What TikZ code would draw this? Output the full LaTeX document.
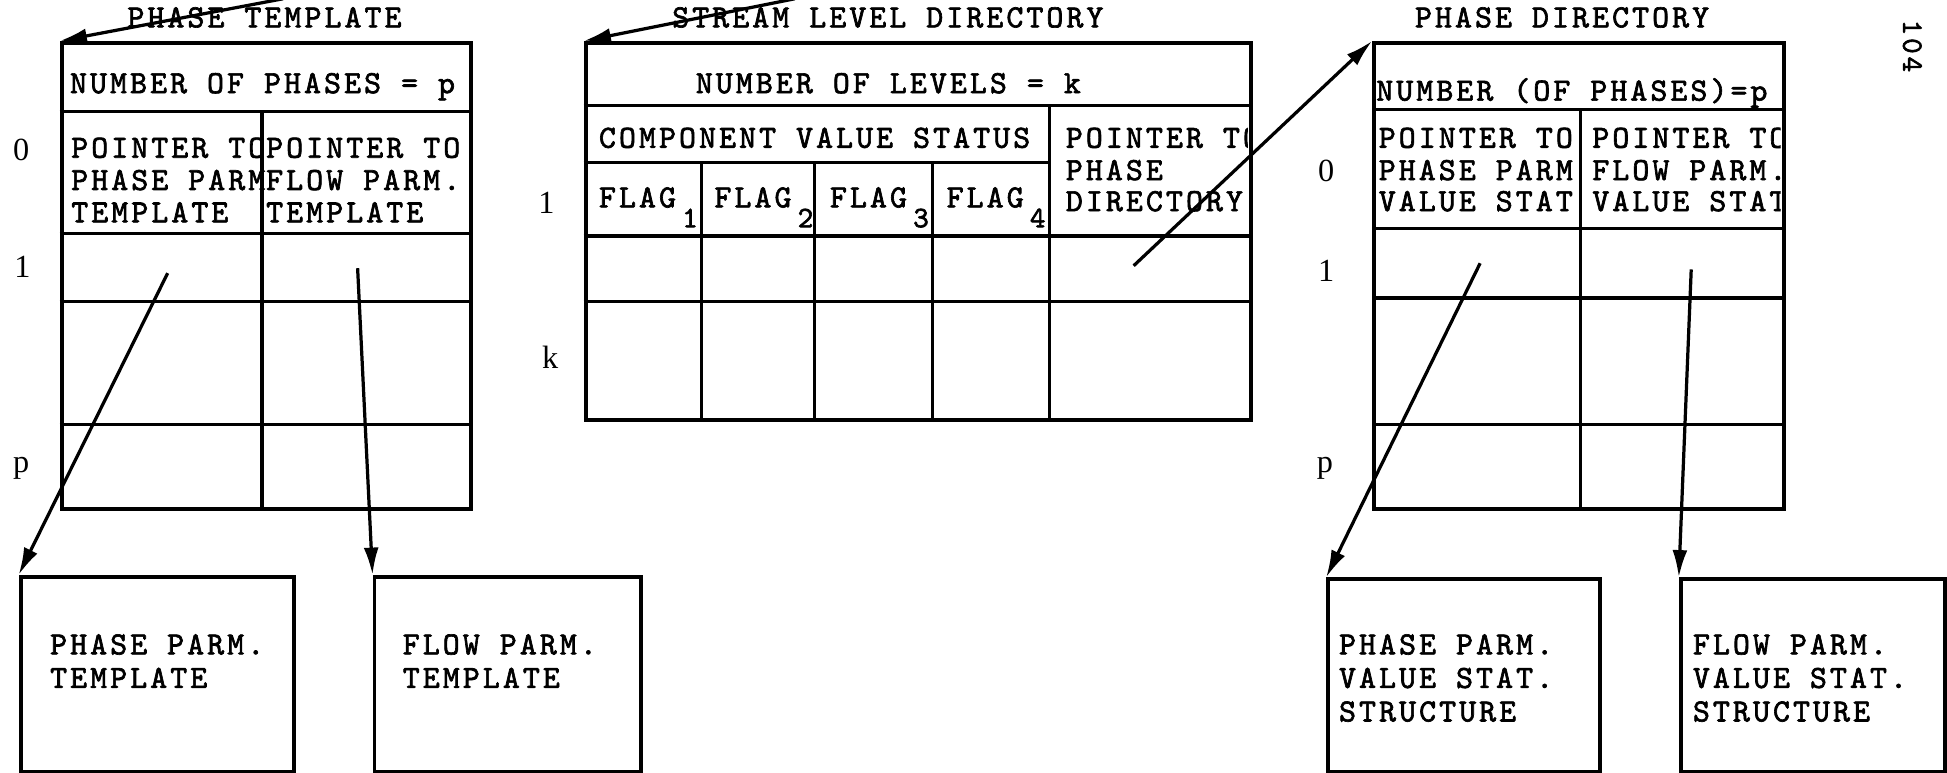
\documentclass[tikz,border=0pt]{standalone}
\usepackage{fontspec}
\usetikzlibrary{arrows.meta}
\newfontfamily\tw[LetterSpace=9.5,FakeBold=2]{lmmono10-regular.otf}
\newfontfamily\rl{Liberation Serif}
\begin{document}
\begin{tikzpicture}[x=0.5pt,y=-0.5pt,
  frame/.style={draw, line width=1.6pt, inner sep=0pt, anchor=north west},
  rule/.style={line width=1.4pt},
  ptr/.style={line width=1.3pt, -{Latex[length=11pt,width=6pt]}},
  txt/.style={font=\tw\fontsize{13}{13}\selectfont, inner sep=0pt, anchor=base west},
  ttl/.style={font=\tw\fontsize{13}{13}\selectfont, inner sep=0pt, anchor=base},
  lbl/.style={font=\rl\fontsize{13}{13}\selectfont, inner sep=0pt, anchor=center},
  sub/.style={font=\tw\fontsize{12}{12}\selectfont, inner sep=0pt, anchor=base west},
]
\useasboundingbox (0,0) rectangle (1568,622);

% ---------------- PHASE TEMPLATE ----------------
\node[ttl] (ptT) at (213,22) {PHASE TEMPLATE};
\node[frame, minimum width=165pt, minimum height=187.5pt] (pt) at (48,33) {};
\draw[rule] (48,90) -- (378,90);
\draw[rule] (48,188) -- (378,188);
\draw[rule] (48,243) -- (378,243);
\draw[rule] (48,342) -- (378,342);
\draw[rule] (211,90) -- (211,408);
\node[txt] (ptN) at (56,75) {NUMBER OF PHASES = p};
\node[txt] (ptA1) at (57,127) {POINTER TO};
\node[txt] (ptA2) at (57,153) {PHASE PARM};
\node[txt] (ptA3) at (57,179) {TEMPLATE};
\node[txt] (ptB1) at (214,127) {POINTER TO};
\node[txt] (ptB2) at (214,153) {FLOW PARM.};
\node[txt] (ptB3) at (214,179) {TEMPLATE};
\node[lbl] (ptL0) at (17,121) {0};
\node[lbl] (ptL1) at (18,215) {1};
\node[lbl] (ptLp) at (17,377) {p};

% ---------------- STREAM LEVEL DIRECTORY ----------------
\node[ttl] (slT) at (715,22) {STREAM LEVEL DIRECTORY};
\node[frame, minimum width=268pt, minimum height=152pt] (sl) at (470,33) {};
\draw[rule] (470,85) -- (1006,85);
\draw[rule] (470,131) -- (845,131);
\draw[rule] (470,190) -- (1006,190);
\draw[rule] (470,243) -- (1006,243);
\draw[rule] (845,85) -- (845,337);
\draw[rule] (565,131) -- (565,337);
\draw[rule] (656,131) -- (656,337);
\draw[rule] (751,131) -- (751,337);
\node[txt] (slN) at (560,75) {NUMBER OF LEVELS = k};
\node[txt] (slC) at (482,119) {COMPONENT VALUE STATUS};
\node[txt] (slF1) at (482,167) {FLAG};
\node[sub] (slS1) at (549,183) {1};
\node[txt] (slF2) at (575,167) {FLAG};
\node[sub] (slS2) at (642,183) {2};
\node[txt] (slF3) at (668,167) {FLAG};
\node[sub] (slS3) at (735,183) {3};
\node[txt] (slF4) at (762,167) {FLAG};
\node[sub] (slS4) at (829,183) {4};
\begin{scope}
\clip (846,86) rectangle (1005,189);
\node[txt] (slP1) at (858,119) {POINTER TO};
\node[txt] (slP2) at (858,145) {PHASE};
\node[txt] (slP3) at (858,170) {DIRECTORY};
\end{scope}
\node[lbl] (slL1) at (440,163) {1};
\node[lbl] (slLk) at (443,288) {k};

% ---------------- PHASE DIRECTORY ----------------
\node[ttl] (pdT) at (1258,22) {PHASE DIRECTORY};
\node[frame, minimum width=165pt, minimum height=187.5pt] (pd) at (1105,33) {};
\draw[rule] (1105,88) -- (1435,88);
\draw[rule] (1105,184) -- (1435,184);
\draw[rule] (1105,240) -- (1435,240);
\draw[rule] (1105,342) -- (1435,342);
\draw[rule] (1273,88) -- (1273,408);
\node[txt] (pdN) at (1108,81) {NUMBER (OF PHASES)=p};
\node[txt] (pdA1) at (1110,119) {POINTER TO};
\node[txt] (pdA2) at (1110,145) {PHASE PARM};
\node[txt] (pdA3) at (1110,170) {VALUE STAT};
\begin{scope}
\clip (1274,89) rectangle (1434,183);
\node[txt] (pdB1) at (1282,119) {POINTER TO};
\node[txt] (pdB2) at (1282,145) {FLOW PARM.};
\node[txt] (pdB3) at (1282,170) {VALUE STAT};
\end{scope}
\node[lbl] (pdL0) at (1068,138) {0};
\node[lbl] (pdL1) at (1068,218) {1};
\node[lbl] (pdLp) at (1067,377) {p};

% ---------------- bottom boxes ----------------
\node[frame, minimum width=110pt, minimum height=78.5pt] (b1) at (15,463) {};
\node[txt] (b1a) at (40,527) {PHASE PARM.};
\node[txt] (b1b) at (40,554) {TEMPLATE};
\node[frame, minimum width=107.5pt, minimum height=78.5pt] (b2) at (300,463) {};
\node[txt] (b2a) at (324,527) {FLOW PARM.};
\node[txt] (b2b) at (324,554) {TEMPLATE};
\node[frame, minimum width=109.5pt, minimum height=77.5pt] (b3) at (1068,465) {};
\node[txt] (b3a) at (1078,527) {PHASE PARM.};
\node[txt] (b3b) at (1078,554) {VALUE STAT.};
\node[txt] (b3c) at (1078,581) {STRUCTURE};
\node[frame, minimum width=106.5pt, minimum height=77.5pt] (b4) at (1352,465) {};
\node[txt] (b4a) at (1363,527) {FLOW PARM.};
\node[txt] (b4b) at (1363,554) {VALUE STAT.};
\node[txt] (b4c) at (1363,581) {STRUCTURE};

% page number
\node[font=\tw\fontsize{12}{12}\selectfont, inner sep=0pt, rotate=-90] (pg) at (1540,37) {104};

% ---------------- pointers ----------------
\coordinate (inPT) at (228,-1);
\coordinate (inSL) at (640,-1);
\coordinate (sP) at (913,214);
\coordinate (aA) at (135,220);
\coordinate (aB) at (288,216);
\coordinate (aC) at (1192,212);
\coordinate (aD) at (1362,217);
\draw[ptr] (inPT) -- (pt.north west);
\draw[ptr] (inSL) -- (sl.north west);
\draw[ptr] (sP) -- (pd.north west);
\draw[ptr] (aA) -- (b1.north west);
\draw[ptr] (aB) -- (b2.north west);
\draw[ptr] (aC) -- (b3.north west);
\draw[ptr] (aD) -- (b4.north west);
\end{tikzpicture}
\end{document}
